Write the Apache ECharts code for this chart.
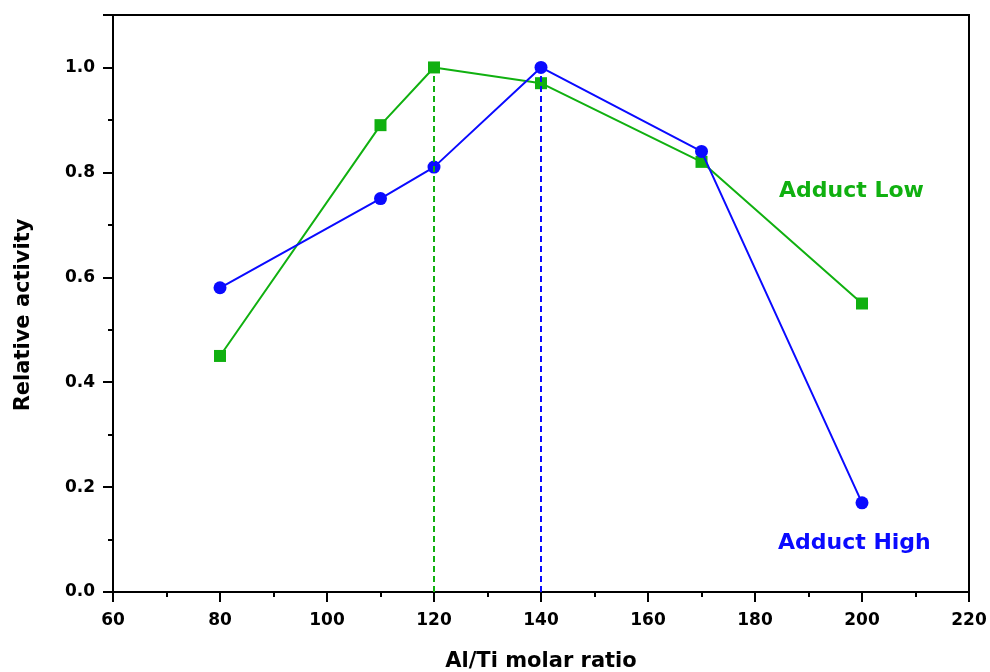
<!DOCTYPE html>
<html>
<head>
<meta charset="utf-8">
<script src="https://cdn.jsdelivr.net/npm/echarts@6/dist/echarts.min.js"></script>
<style>
  html, body { margin: 0; padding: 0; background: #fff; }
  #chart { width: 990px; height: 672px; }
</style>
</head>
<body>
<div id="chart"></div>
<script>
// Al/Ti molar ratio values
const ratios = [80, 110, 120, 140, 170, 200];
const adductLow = [0.45, 0.89, 1.0, 0.97, 0.82, 0.55];
const adductHigh = [0.58, 0.75, 0.81, 1.0, 0.84, 0.17];
// peak positions marked with dashed lines
const peakLow = [120, 1.0];
const peakHigh = [140, 1.0];

const green = "#10b010";
const blue = "#0a0aff";
const font = "'DejaVu Sans', Verdana, sans-serif";

const chart = echarts.init(document.getElementById("chart"));

function pairs(xs, ys) {
  return xs.map((x, i) => [x, ys[i]]);
}

function peakLine(peak, color) {
  return {
    silent: true,
    symbol: "none",
    label: { show: false },
    lineStyle: { color: color, type: [6, 4], width: 2 },
    data: [[{ coord: [peak[0], 0] }, { coord: [peak[0], peak[1]] }]],
  };
}

const axisCommon = {
  axisLine: { lineStyle: { color: "#000", width: 2 } },
  axisTick: { inside: false, length: 10, lineStyle: { color: "#000", width: 2 } },
  minorTick: { show: true, splitNumber: 2, length: 5, lineStyle: { color: "#000", width: 2 } },
  splitLine: { show: false },
};
const labelStyle = { fontFamily: font, fontWeight: "bold", fontSize: 17, color: "#000" };

chart.setOption({
  animation: false,
  grid: {
    left: 113,
    right: 21,
    top: 15,
    bottom: 80,
    outerBoundsMode: "none",
    show: true,
    borderColor: "#000",
    borderWidth: 2,
  },
  xAxis: {
    type: "value",
    min: 60,
    max: 220,
    interval: 20,
    name: "Al/Ti molar ratio",
    nameLocation: "middle",
    nameGap: 59,
    nameTextStyle: { fontFamily: font, fontWeight: "bold", fontSize: 21, color: "#000" },
    ...axisCommon,
    axisLabel: { ...labelStyle, margin: 20 },
  },
  yAxis: {
    type: "value",
    min: 0,
    max: 1.1,
    interval: 0.2,
    ...axisCommon,
    axisLabel: {
      ...labelStyle,
      margin: 18,
      showMaxLabel: false,
      formatter: (v) => v.toFixed(1),
    },
  },
  series: [
    {
      name: "Adduct Low",
      type: "line",
      data: pairs(ratios, adductLow),
      symbol: "rect",
      symbolSize: 12,
      itemStyle: { color: green },
      lineStyle: { color: green, width: 2 },
      markLine: peakLine(peakLow, green),
      z: 2,
    },
    {
      name: "Adduct High",
      type: "line",
      data: pairs(ratios, adductHigh),
      symbol: "circle",
      symbolSize: 13,
      itemStyle: { color: blue },
      lineStyle: { color: blue, width: 2 },
      markLine: peakLine(peakHigh, blue),
      z: 3,
    },
  ],
  graphic: [
    {
      type: "text",
      x: 24,
      y: 315,
      rotation: Math.PI / 2,
      style: {
        text: "Relative activity",
        fill: "#000",
        font: "bold 21px " + font,
        align: "center",
        verticalAlign: "middle",
      },
    },
    {
      type: "text",
      x: 779,
      y: 191,
      style: { text: "Adduct Low", fill: green, font: "bold 22px " + font, verticalAlign: "middle" },
    },
    {
      type: "text",
      x: 778,
      y: 543,
      style: { text: "Adduct High", fill: blue, font: "bold 22px " + font, verticalAlign: "middle" },
    },
  ],
});
</script>
</body>
</html>
